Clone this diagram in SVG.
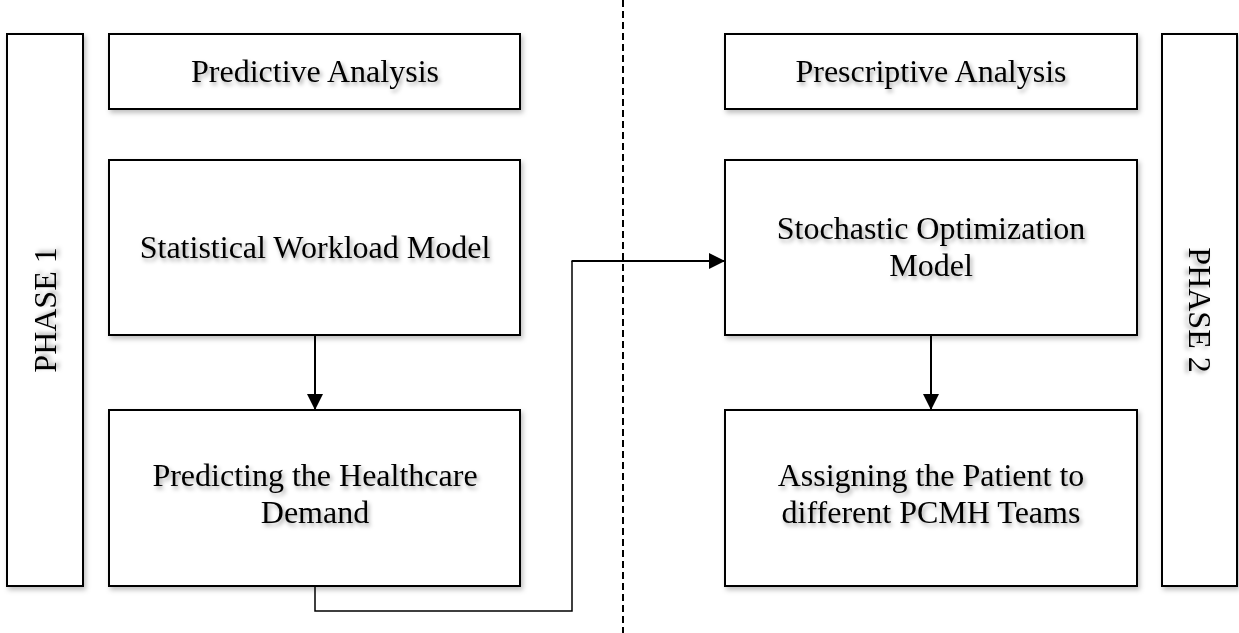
<svg xmlns="http://www.w3.org/2000/svg" width="1239" height="633" viewBox="0 0 1239 633">
<defs>
<filter id="sh" x="-20%" y="-20%" width="140%" height="140%">
<feDropShadow dx="2" dy="3" stdDeviation="2.5" flood-color="#000" flood-opacity="0.25"/>
</filter>
<filter id="tsh" x="-10%" y="-30%" width="120%" height="160%">
<feDropShadow dx="2" dy="3" stdDeviation="2" flood-color="#000" flood-opacity="0.35"/>
</filter>
<marker id="ah2" viewBox="0 0 16 16" refX="16" refY="8" markerWidth="16" markerHeight="16" markerUnits="userSpaceOnUse" orient="auto">
<path d="M0,0 L16,8 L0,16 z" fill="#000"/>
</marker>
</defs>
<style>
.box{fill:#fff;stroke:#000;stroke-width:2;filter:url(#sh)}
.t{font-family:"Liberation Serif","Times New Roman",serif;font-size:32px;fill:#000;text-anchor:middle;filter:url(#tsh)}
.c{fill:none;stroke:#000;stroke-width:2}
</style>
<rect width="1239" height="633" fill="#fff"/>
<g id="divider">
<line x1="623" y1="0" x2="623" y2="633" stroke="#000" stroke-width="2" stroke-dasharray="7,4"/>
</g>
<g id="phase1">
<rect class="box" x="7" y="34" width="76" height="552"/>
<text class="t" transform="translate(56,310) rotate(-90)">PHASE 1</text>
</g>
<g id="predictive">
<rect class="box" x="109" y="34" width="411" height="75"/>
<text class="t" x="315" y="82">Predictive Analysis</text>
</g>
<g id="statistical">
<rect class="box" x="109" y="160" width="411" height="175"/>
<text class="t" x="315" y="258">Statistical Workload Model</text>
</g>
<g id="predicting">
<rect class="box" x="109" y="410" width="411" height="176"/>
<text class="t" x="315" y="486">Predicting the Healthcare</text>
<text class="t" x="315" y="523">Demand</text>
</g>
<g id="prescriptive">
<rect class="box" x="725" y="34" width="412" height="75"/>
<text class="t" x="931" y="82">Prescriptive Analysis</text>
</g>
<g id="stochastic">
<rect class="box" x="725" y="160" width="412" height="175"/>
<text class="t" x="931" y="239">Stochastic Optimization</text>
<text class="t" x="931" y="276">Model</text>
</g>
<g id="assigning">
<rect class="box" x="725" y="410" width="412" height="176"/>
<text class="t" x="931" y="486">Assigning the Patient to</text>
<text class="t" x="931" y="523">different PCMH Teams</text>
</g>
<g id="phase2">
<rect class="box" x="1162" y="34" width="75" height="552"/>
<text class="t" transform="translate(1189,310) rotate(90)">PHASE 2</text>
</g>
<g id="connectors">
<line class="c" x1="315" y1="335" x2="315" y2="410" marker-end="url(#ah2)"/>
<line class="c" x1="931" y1="335" x2="931" y2="410" marker-end="url(#ah2)"/>
<polyline class="c" style="stroke-width:1.5" points="315,586 315,611 572,611 572,261"/>
<line class="c" x1="571.5" y1="261" x2="725" y2="261" marker-end="url(#ah2)"/>
</g>
</svg>
